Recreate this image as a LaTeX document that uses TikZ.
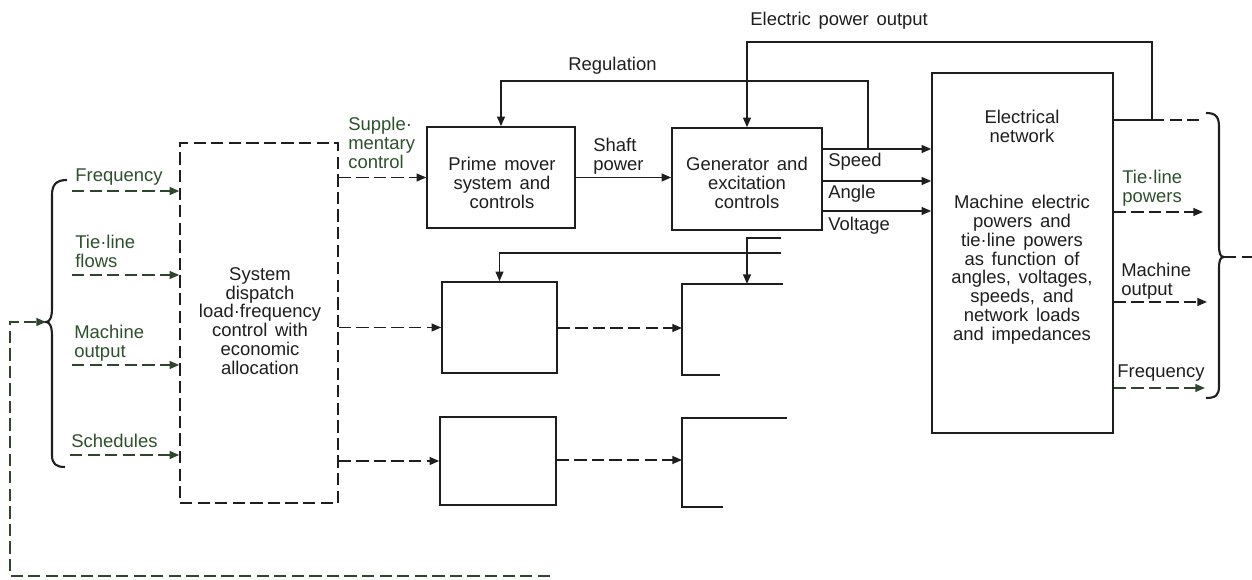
\documentclass[tikz,border=0pt]{standalone}
\usepackage{fontspec}
\setmainfont{Liberation Sans}
\usetikzlibrary{arrows.meta,calc}
\definecolor{ink}{RGB}{30,30,30}
\definecolor{gtxt}{RGB}{45,80,45}
\definecolor{gline}{RGB}{45,70,45}
\newcommand{\diagfont}{\fontsize{10.5}{10.7}\selectfont\spaceskip=0.42em plus 0.1em minus 0.05em\relax}
\begin{document}
\begin{tikzpicture}[x=0.02cm,y=-0.02cm,
  every node/.style={font=\diagfont, text=ink, inner sep=0pt},
  box/.style={draw=ink, line width=0.9pt, inner sep=0pt},
  dbox/.style={box, dash pattern=on 7pt off 3pt},
  con/.style={draw=ink, line width=0.9pt},
  sarr/.style={con, -{Triangle[length=5.5pt,width=4.5pt]}},
  darr/.style={sarr, dash pattern=on 7pt off 3pt},
  garr/.style={darr, draw=gline},
  dline/.style={con, dash pattern=on 7pt off 3pt},
  lbl/.style={anchor=north west, align=left},
  glbl/.style={lbl, text=gtxt},
  ctext/.style={anchor=north, align=center},
  bracestyle/.style={draw=ink, line width=1.2pt}
]
\useasboundingbox (0,0) rectangle (1252,580);

% boxes
\node[dbox, minimum width=3.16cm, minimum height=7.2cm] (disp) at (259,323) {};
\node[ctext] (disptxt) at (260,267) {System\\dispatch\\load·frequency\\control with\\economic\\allocation};
\node[box, minimum width=2.96cm, minimum height=2.02cm] (pm) at (501,177.5) {};
\node[ctext] (pmtxt) at (502,157) {Prime mover\\system and\\controls};
\node[box, minimum width=3.0cm, minimum height=2.04cm] (gen) at (747,179) {};
\node[ctext] (gentxt) at (747,157) {Generator and\\excitation\\controls};
\node[box, minimum width=3.62cm, minimum height=7.2cm] (net) at (1022.5,253) {};
\node[ctext] (nettitle) at (1022,110) {Electrical\\network};
\node[ctext] (netbody) at (1022,195) {Machine electric\\powers and\\tie·line powers\\as function of\\angles, voltages,\\speeds, and\\network loads\\and impedances};
\node[box, minimum width=2.3cm, minimum height=1.82cm] (pmb) at (499.5,327.5) {};
\node[box, minimum width=2.32cm, minimum height=1.76cm] (pmc) at (498,461) {};

% partial generator boxes
\draw[con] (783,284) -- (682,284) -- (682,375) -- (720,375);
\coordinate (genb) at (682,328);
\coordinate (genbtop) at (747,284);
\draw[con] (787,418) -- (682,418) -- (682,507) -- (723,507);
\coordinate (genc) at (682,460);

% labels
\node[glbl] (lfreq) at (75,168) {Frequency};
\node[glbl] (ltie) at (75,235) {Tie·line\\flows};
\node[glbl] (lmach) at (74,325) {Machine\\output};
\node[glbl] (lsched) at (71,434) {Schedules};
\node[glbl] (lsupp) at (348,117) {Supple·\\mentary\\control};
\node[lbl] (lshaft) at (593,138) {Shaft\\power};
\node[lbl] (lreg) at (568,57) {Regulation};
\node[lbl] (lepo) at (750,12) {Electric power output};
\node[lbl] (lspeed) at (828,153) {Speed};
\node[lbl] (langle) at (828,185) {Angle};
\node[lbl] (lvolt) at (828,217) {Voltage};
\node[glbl] (rtie) at (1122,170) {Tie·line\\powers};
\node[lbl] (rmach) at (1121,263) {Machine\\output};
\node[lbl] (rfreq) at (1117,364) {Frequency};

% inputs to dispatch
\coordinate (ifreq) at (72,191);
\coordinate (itie) at (72,275);
\coordinate (imach) at (72,365);
\coordinate (isched) at (70,455);
\draw[garr] (ifreq) -- (ifreq -| disp.west);
\draw[garr] (itie) -- (itie -| disp.west);
\draw[garr] (imach) -- (imach -| disp.west);
\draw[garr] (isched) -- (isched -| disp.west);

% dispatch outputs
\draw[darr] (disp.east |- pm.west) -- (pm.west);
\draw[darr] (disp.east |- pmb.west) -- (pmb.west);
\draw[darr] (disp.east |- pmc.west) -- (pmc.west);

% prime mover -> generator
\draw[sarr] (pm.east) -- (pm.east -| gen.west);
\draw[darr] (pmb.east |- genb) -- (genb);
\draw[darr] (pmc.east |- genc) -- (genc);

% generator -> network
\draw[sarr] (gen.east |- 0,149) -- (net.west |- 0,149);
\draw[sarr] (gen.east |- 0,181) -- (net.west |- 0,181);
\draw[sarr] (gen.east |- 0,211) -- (net.west |- 0,211);

% regulation feedback
\coordinate (rs) at (868,149);
\draw[sarr] (rs) |- (pm.north |- 0,81) -- (pm.north);

% electric power output feedback
\coordinate (ep) at (1152,120);
\draw[con] (net.east |- ep) -- (ep);
\draw[sarr] (ep) |- (gen.north |- 0,42) -- (gen.north);
\draw[dline] (ep) -- (1204,120);

% middle row feedbacks
\draw[sarr] (781,253) -| (pmb.north);
\draw[sarr] (781,238) -| (genbtop);

% network outputs
\draw[darr] (net.east |- 0,212) -- (1203,212);
\draw[darr] (net.east |- 0,302) -- (1207,302);
\draw[garr] (net.east |- 0,388) -- (1205,388);

% left brace
\coordinate (lbt) at (46,322);
\draw[bracestyle] (67,180) .. controls (56,180) and (52,185) .. (52,195) -- (52,308) .. controls (52,317) and (50,322) .. (lbt) .. controls (50,322) and (52,327) .. (52,336) -- (52,455) .. controls (52,464) and (56,467) .. (65,467);

% right brace
\coordinate (rbt) at (1224,257);
\draw[bracestyle] (1206,113) .. controls (1216,113) and (1219,117) .. (1219,127) -- (1219,245) .. controls (1219,253) and (1220,257) .. (rbt) .. controls (1220,257) and (1219,261) .. (1219,269) -- (1219,386) .. controls (1219,395) and (1216,398) .. (1206,398);
\draw[dline] (rbt) -- (1252,257);

% system feedback loop
\coordinate (fbs) at (550,576);
\draw[garr] (fbs) -- (10,576) -- (10,322) -- (lbt);
\end{tikzpicture}
\end{document}
